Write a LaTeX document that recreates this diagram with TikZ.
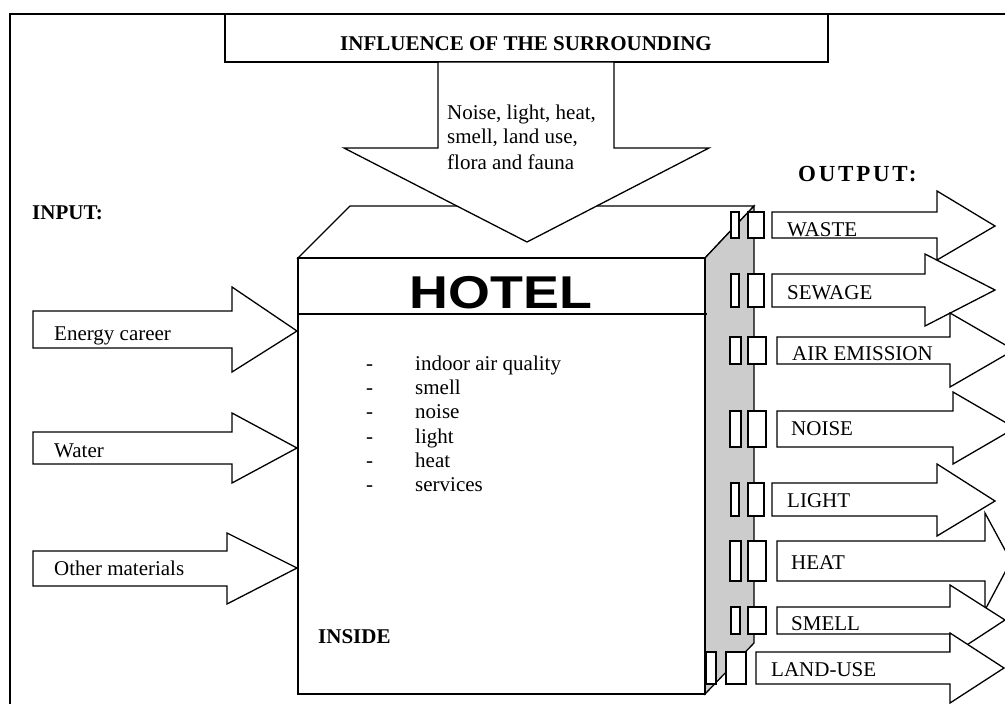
\documentclass[tikz,border=0pt]{standalone}
\usepackage{fontspec}
\setmainfont{Liberation Serif}
\newfontfamily\hotelfont{Liberation Sans}
\begin{document}
\begin{tikzpicture}[x=1pt,y=-1pt,
  shapeline/.style={draw,line width=1.3pt,fill=white},
  sideface/.style={draw,line width=1.3pt,fill=black!20},
  txt/.style={font=\fontsize{21}{24}\selectfont,inner sep=0pt,anchor=base west},
  boldtxt/.style={font=\fontsize{21}{24}\selectfont\bfseries,inner sep=0pt}]
\useasboundingbox (0,0) rectangle (1005,704);
\clip (0,0) rectangle (1005,704);

% frame
\draw[line width=1.6pt] (10,720) -- (10,14) -- (1020,14);

% title
\draw[shapeline] (225,14) rectangle (828,62);
\node[boldtxt,anchor=base] (title) at (526,50) {INFLUENCE OF THE SURROUNDING};

% hotel block
\draw[shapeline] (298,258) -- (350,206) -- (754,206) -- (705,258) -- cycle;
\draw[sideface] (705,258) -- (754,206) -- (754,643) -- (705,694) -- cycle;
\draw[shapeline] (298,258) rectangle (705,694);
\draw[line width=1.3pt] (298,314) -- (707,314);
\node[inner sep=0pt,xscale=1.17,font=\fontsize{46}{50}\hotelfont\bfseries] (hotel) at (501,293) {HOTEL};

% arrow from the surrounding
\draw[shapeline] (438,62) -- (614,62) -- (614,148) -- (709,148) -- (527,242)
  -- (344,148) -- (438,148) -- cycle;
\node[txt] (surr1) at (447,119) {Noise, light, heat,};
\node[txt] (surr2) at (447,143) {smell, land use,};
\node[txt] (surr3) at (447,169) {flora and fauna};

% inside
\node[txt] (d1) at (366,370) {-};
\node[txt] (d2) at (366,394) {-};
\node[txt] (d3) at (366,418) {-};
\node[txt] (d4) at (366,443) {-};
\node[txt] (d5) at (366,467) {-};
\node[txt] (d6) at (366,491) {-};
\node[txt] (item1) at (415,370) {indoor air quality};
\node[txt] (item2) at (415,394) {smell};
\node[txt] (item3) at (415,418) {noise};
\node[txt] (item4) at (415,443) {light};
\node[txt] (item5) at (415,467) {heat};
\node[txt] (item6) at (415,491) {services};
\node[boldtxt,anchor=base west] (inside) at (318,643) {INSIDE};

% input
\node[boldtxt,anchor=base west] (input) at (32,219) {INPUT:};
\draw[shapeline] (33,311) -- (232,311) -- (232,287) -- (297,331) -- (232,372) -- (232,348) -- (33,348) -- cycle;
\draw[shapeline] (33,432) -- (232,432) -- (232,413) -- (297,448) -- (232,483) -- (232,464) -- (33,464) -- cycle;
\draw[shapeline] (33,551) -- (227,551) -- (227,533) -- (297,568) -- (227,604) -- (227,586) -- (33,586) -- cycle;
\node[txt] (energy) at (54,340) {Energy career};
\node[txt] (water) at (54,457) {Water};
\node[txt] (materials) at (54,575) {Other materials};

% output
\node[boldtxt,anchor=base west,font=\fontsize{23}{26}\selectfont\bfseries\addfontfeature{LetterSpace=12}] (output) at (798,181) {OUTPUT:};

\draw[shapeline] (731,212) rectangle (739,238);
\draw[shapeline] (748,212) rectangle (764,238);
\draw[shapeline] (731,274) rectangle (739,307);
\draw[shapeline] (748,274) rectangle (764,307);
\draw[shapeline] (730,337) rectangle (741,364);
\draw[shapeline] (748,337) rectangle (766,364);
\draw[shapeline] (730,411) rectangle (741,447);
\draw[shapeline] (748,411) rectangle (766,447);
\draw[shapeline] (731,483) rectangle (739,516);
\draw[shapeline] (748,483) rectangle (764,516);
\draw[shapeline] (730,541) rectangle (741,581);
\draw[shapeline] (748,541) rectangle (766,581);
\draw[shapeline] (731,607) rectangle (740,634);
\draw[shapeline] (748,607) rectangle (766,634);
\draw[shapeline] (706,652) rectangle (716,684);
\draw[shapeline] (726,652) rectangle (746,684);

\draw[shapeline] (772,212) -- (937,212) -- (937,191) -- (995,226) -- (937,260) -- (937,238) -- (772,238) -- cycle;
\draw[shapeline] (772,274) -- (925,274) -- (925,254) -- (995,290) -- (925,326) -- (925,307) -- (772,307) -- cycle;
\draw[shapeline] (777,337) -- (950,337) -- (950,313) -- (1014,350) -- (950,387) -- (950,364) -- (777,364) -- cycle;
\draw[shapeline] (777,411) -- (953,411) -- (953,392) -- (1015,428) -- (953,464) -- (953,447) -- (777,447) -- cycle;
\draw[shapeline] (772,483) -- (937,483) -- (937,464) -- (995,501) -- (937,536) -- (937,516) -- (772,516) -- cycle;
\draw[shapeline] (777,541) -- (985,541) -- (985,513) -- (1011,561) -- (985,610) -- (985,581) -- (777,581) -- cycle;
\draw[shapeline] (777,607) -- (950,607) -- (950,585) -- (1005,620) -- (950,656) -- (950,634) -- (777,634) -- cycle;
\draw[shapeline] (756,652) -- (950,652) -- (950,633) -- (1004,668) -- (950,703) -- (950,684) -- (756,684) -- cycle;

\node[txt] (waste) at (787,236) {WASTE};
\node[txt] (sewage) at (787,299) {SEWAGE};
\node[txt] (air) at (792,360) {AIR EMISSION};
\node[txt] (noise) at (791,435) {NOISE};
\node[txt] (light) at (787,507) {LIGHT};
\node[txt] (heat) at (791,569) {HEAT};
\node[txt] (smell) at (791,630) {SMELL};
\node[txt] (landuse) at (771,676) {LAND-USE};
\end{tikzpicture}
\end{document}
